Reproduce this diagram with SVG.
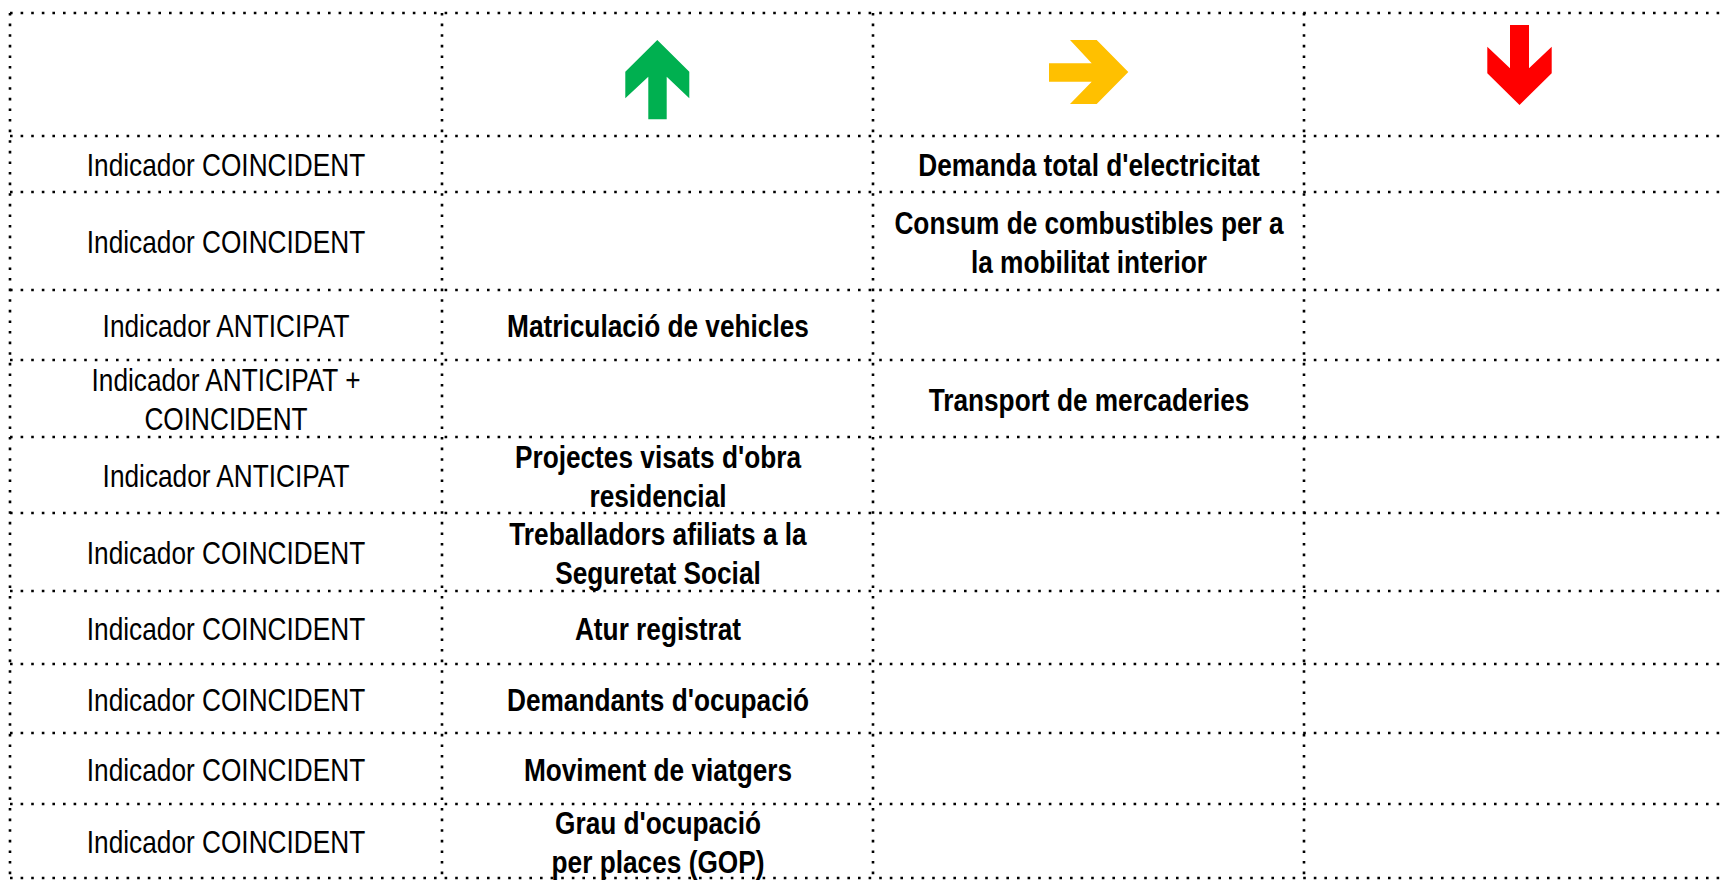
<svg xmlns="http://www.w3.org/2000/svg" width="1723" height="880" viewBox="0 0 1723 880">
<style>
.bg{fill:#fff}
.grid line{stroke:#000;stroke-width:2.6;stroke-dasharray:2.6 8}
.t{font-family:"Liberation Sans",Arial,sans-serif;font-size:32px;text-anchor:middle;fill:#000}
.b{font-weight:bold}
</style>
<rect class="bg" x="0" y="0" width="1723" height="880"/>
<g id="grid" class="grid">
<line x1="10" y1="13" x2="1723" y2="13"/>
<line x1="10" y1="136" x2="1723" y2="136"/>
<line x1="10" y1="192" x2="1723" y2="192"/>
<line x1="10" y1="290" x2="1723" y2="290"/>
<line x1="10" y1="360" x2="1723" y2="360"/>
<line x1="10" y1="437" x2="1723" y2="437"/>
<line x1="10" y1="513" x2="1723" y2="513"/>
<line x1="10" y1="591" x2="1723" y2="591"/>
<line x1="10" y1="664" x2="1723" y2="664"/>
<line x1="10" y1="733" x2="1723" y2="733"/>
<line x1="10" y1="804" x2="1723" y2="804"/>
<line x1="10" y1="878" x2="1723" y2="878"/>
<line x1="10" y1="13" x2="10" y2="878"/>
<line x1="442" y1="13" x2="442" y2="878"/>
<line x1="873" y1="13" x2="873" y2="878"/>
<line x1="1304" y1="13" x2="1304" y2="878"/>
</g>
<g id="header">
<polygon id="arrow-up" fill="#00B050" points="657.3,40 689.3,71.7 689.3,98.3 666.7,76.7 666.7,119.3 648.3,119.3 648.3,76.7 625.3,98.3 625.3,71.7"/>
<polygon id="arrow-right" fill="#FFC000" points="1070,40 1096.7,40 1128.3,72 1096.7,104 1070,104 1091.7,81.7 1049,81.7 1049,63.3 1091.7,63.3 1070,40"/>
<polygon id="arrow-down" fill="#FF0000" points="1510,25 1529,25 1529,68.3 1551.7,46.7 1551.7,73.3 1519.5,105 1487.3,73.3 1487.3,46.7 1510,68.3"/>
</g>
<g id="row1">
<text class="t" transform="translate(226,176) scale(0.82 1)">Indicador COINCIDENT</text>
<text class="t b" transform="translate(1089,176) scale(0.82 1)">Demanda total d'electricitat</text>
</g>
<g id="row2">
<text class="t" transform="translate(226,253) scale(0.82 1)">Indicador COINCIDENT</text>
<text class="t b" transform="translate(1089,234) scale(0.82 1)"><tspan x="0" y="0">Consum de combustibles per a</tspan><tspan x="0" y="39">la mobilitat interior</tspan></text>
</g>
<g id="row3">
<text class="t" transform="translate(226,337) scale(0.82 1)">Indicador ANTICIPAT</text>
<text class="t b" transform="translate(658,337) scale(0.82 1)">Matriculació de vehicles</text>
</g>
<g id="row4">
<text class="t" transform="translate(226,391) scale(0.82 1)"><tspan x="0" y="0">Indicador ANTICIPAT +</tspan><tspan x="0" y="39">COINCIDENT</tspan></text>
<text class="t b" transform="translate(1089,411) scale(0.82 1)">Transport de mercaderies</text>
</g>
<g id="row5">
<text class="t" transform="translate(226,487) scale(0.82 1)">Indicador ANTICIPAT</text>
<text class="t b" transform="translate(658,468) scale(0.82 1)"><tspan x="0" y="0">Projectes visats d'obra</tspan><tspan x="0" y="39">residencial</tspan></text>
</g>
<g id="row6">
<text class="t" transform="translate(226,564) scale(0.82 1)">Indicador COINCIDENT</text>
<text class="t b" transform="translate(658,545) scale(0.82 1)"><tspan x="0" y="0">Treballadors afiliats a la</tspan><tspan x="0" y="39">Seguretat Social</tspan></text>
</g>
<g id="row7">
<text class="t" transform="translate(226,640) scale(0.82 1)">Indicador COINCIDENT</text>
<text class="t b" transform="translate(658,640) scale(0.82 1)">Atur registrat</text>
</g>
<g id="row8">
<text class="t" transform="translate(226,711) scale(0.82 1)">Indicador COINCIDENT</text>
<text class="t b" transform="translate(658,711) scale(0.82 1)">Demandants d'ocupació</text>
</g>
<g id="row9">
<text class="t" transform="translate(226,781) scale(0.82 1)">Indicador COINCIDENT</text>
<text class="t b" transform="translate(658,781) scale(0.82 1)">Moviment de viatgers</text>
</g>
<g id="row10">
<text class="t" transform="translate(226,853) scale(0.82 1)">Indicador COINCIDENT</text>
<text class="t b" transform="translate(658,834) scale(0.82 1)"><tspan x="0" y="0">Grau d'ocupació</tspan><tspan x="0" y="39">per places (GOP)</tspan></text>
</g>
</svg>
